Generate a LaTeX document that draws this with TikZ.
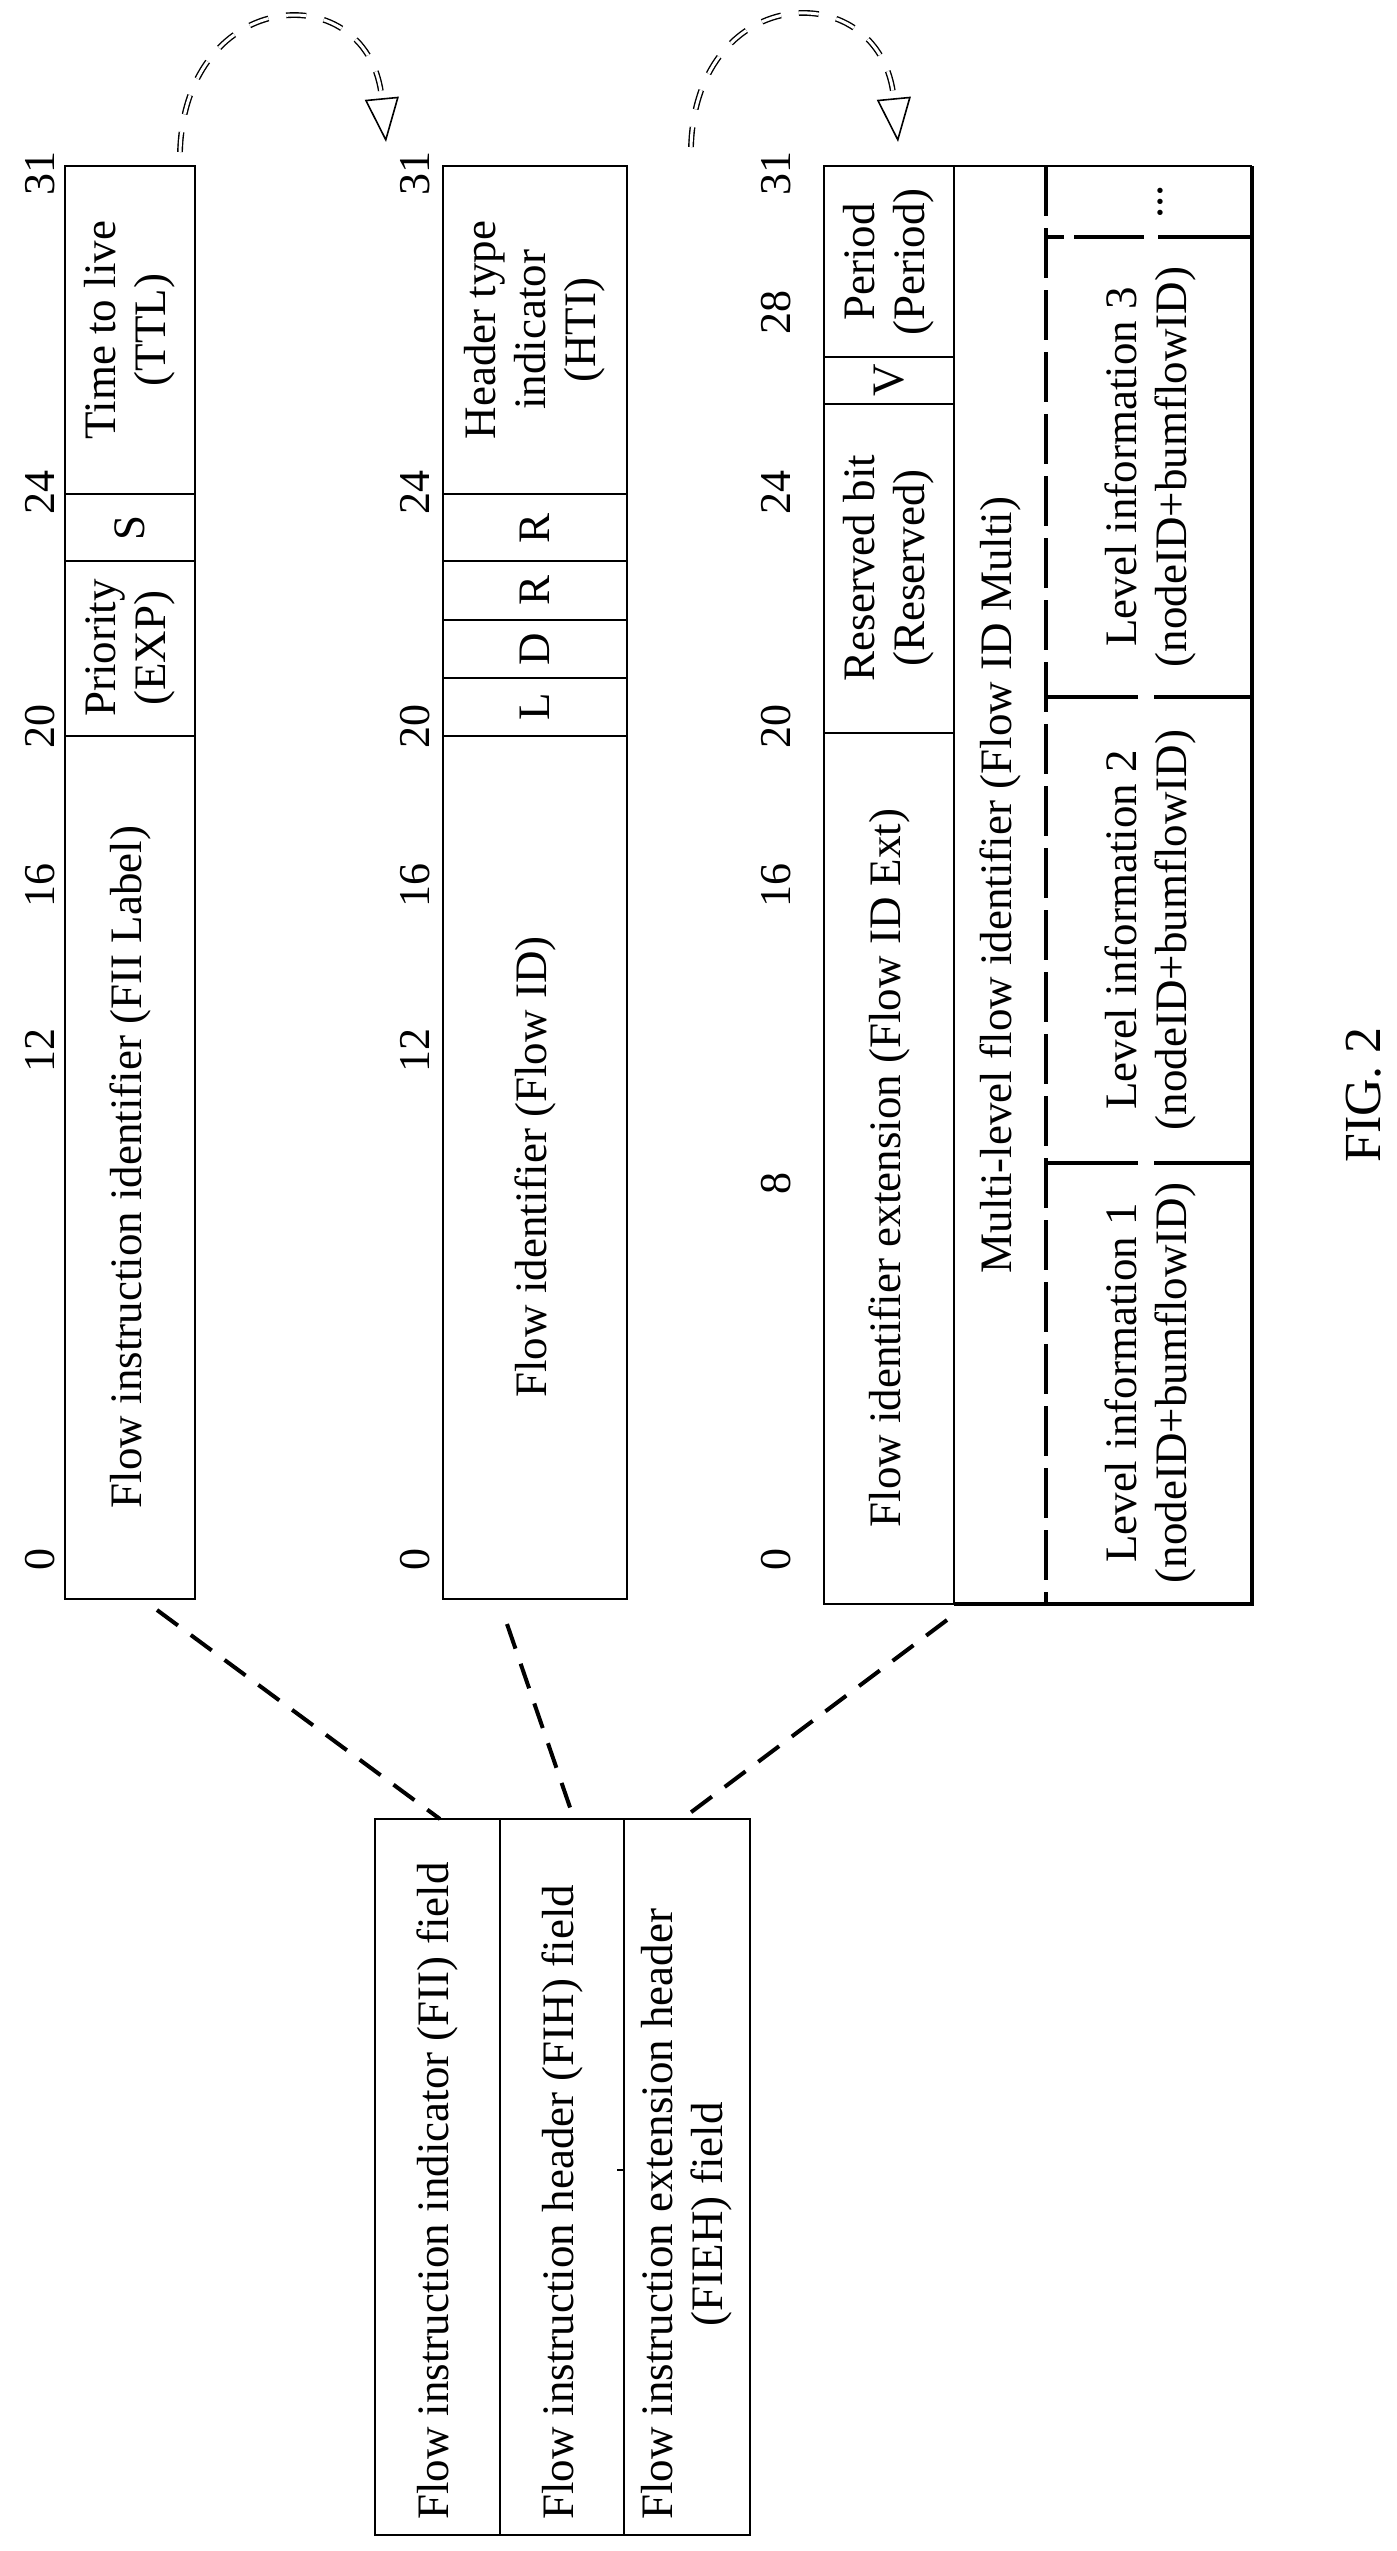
\documentclass[tikz,border=0pt]{standalone}
\usepackage{fontspec}
\setmainfont{Liberation Serif}
\usetikzlibrary{arrows.meta}
\tikzset{
  txt/.style={rotate=90, align=center, inner sep=0pt, font=\fontsize{45}{50}\selectfont},
  bit/.style={rotate=90, inner sep=0pt, font=\fontsize{44}{50}\selectfont},
  thin box/.style={line width=1.6pt},
  heavy/.style={line width=4.5pt},
  link/.style={line width=4pt, dash pattern=on 26pt off 16pt},
  hop/.style={double, double distance=3pt, line width=1.4pt, dash pattern=on 20pt off 18pt,
    -{Triangle[open, length=44pt, width=34pt, line width=1.6pt]}}
}
\begin{document}
\begin{tikzpicture}[x=1pt,y=-1pt]
  \useasboundingbox (0,0) rectangle (1397,2551);

  % first word: FII
  \draw[thin box] (65,166) rectangle (195,1599);
  \draw[thin box] (65,494) -- (195,494) (65,561) -- (195,561) (65,736) -- (195,736);
  \node[txt] (ttl) at (130,330) {Time to live\\(TTL)};
  \node[txt] (sbit) at (130,528) {S};
  \node[txt] (exp) at (130,648) {Priority\\(EXP)};
  \node[txt] (fii) at (130,1167) {Flow instruction identifier (FII Label)};

  % second word: FIH
  \draw[thin box] (443,166) rectangle (627,1599);
  \draw[thin box] (443,494) -- (627,494) (443,561) -- (627,561) (443,620) -- (627,620)
    (443,678) -- (627,678) (443,736) -- (627,736);
  \node[txt] (hti) at (535,330) {Header type\\indicator\\(HTI)};
  \node[txt] (r2) at (535,528) {R};
  \node[txt] (r1) at (535,590) {R};
  \node[txt] (dbit) at (535,649) {D};
  \node[txt] (lbit) at (535,707) {L};
  \node[txt] (fid) at (535,1167) {Flow identifier (Flow ID)};

  % third word: FIEH
  \draw[thin box] (824,166) rectangle (954,1604);
  \draw[thin box] (824,357) -- (954,357) (824,404) -- (954,404) (824,733) -- (954,733);
  \draw[thin box] (954,166) -- (1252,166) (954,166) -- (954,1604);
  \draw[heavy] (1252,166) -- (1252,1604) -- (954,1604);
  \draw[heavy, dash pattern=on 50pt off 12pt] (1046,166) -- (1046,1604);
  \draw[heavy, dash pattern=on 18pt off 10pt on 70pt off 14pt on 200pt] (1046,237) -- (1252,237);
  \draw[heavy, dash pattern=on 92pt off 16pt on 200pt] (1046,697) -- (1252,697);
  \draw[heavy, dash pattern=on 92pt off 16pt on 200pt] (1046,1163) -- (1252,1163);
  \node[txt] (period) at (889,262) {Period\\(Period)};
  \node[txt] (vbit) at (889,380) {V};
  \node[txt] (rsv) at (889,568) {Reserved bit\\(Reserved)};
  \node[txt] (ext) at (889,1168) {Flow identifier extension (Flow ID Ext)};
  \node[txt] (multi) at (1000,885) {Multi-level flow identifier (Flow ID Multi)};
  \node[txt] (more) at (1160,202) {...};
  \node[txt] (lvl3) at (1150,467) {Level information 3\\(nodeID+bumflowID)};
  \node[txt] (lvl2) at (1150,930) {Level information 2\\(nodeID+bumflowID)};
  \node[txt] (lvl1) at (1150,1383) {Level information 1\\(nodeID+bumflowID)};

  % bit numbers
  \foreach \b/\y in {31/173, 24/492, 20/726, 16/885, 12/1050, 0/1559} {
    \node[bit] at (40,\y) {\b};
    \node[bit] at (415,\y) {\b};
  }
  \foreach \b/\y in {31/173, 28/312, 24/492, 20/726, 16/885, 8/1183, 0/1559}
    \node[bit] at (776,\y) {\b};

  % field list
  \draw[thin box] (375,1819) rectangle (750,2535);
  \draw[thin box] (500,1819) -- (500,2535) (624,1819) -- (624,2535);
  \draw[thin box] (617,2170) -- (624,2170);
  \node[txt, anchor=west] (fiif) at (437,2520) {Flow instruction indicator (FII) field};
  \node[txt, anchor=west] (fihf) at (562,2520) {Flow instruction header (FIH) field};
  \node[txt, anchor=west] (fiehf) at (687,2520) {Flow instruction extension header\\(FIEH) field};

  % connectors
  \coordinate (w1) at (157,1610);
  \coordinate (w2) at (507,1624);
  \coordinate (w3) at (947,1620);
  \coordinate (f1) at (440,1819);
  \coordinate (f2) at (574,1819);
  \coordinate (f3) at (682,1819);
  \draw[link] (w1) -- (f1);
  \draw[link] (w2) -- (f2);
  \draw[link] (w3) -- (f3);

  \coordinate (h1s) at (180,152);
  \coordinate (h1e) at (386,142);
  \coordinate (h2s) at (691,147);
  \coordinate (h2e) at (898,142);
  \draw[hop] (h1s) .. controls (185,-15) and (370,-25) .. (h1e);
  \draw[hop] (h2s) .. controls (696,-20) and (882,-25) .. (h2e);

  \node[rotate=90, font=\fontsize{52}{58}\selectfont] (fig) at (1364,1095) {FIG. 2};
\end{tikzpicture}
\end{document}
